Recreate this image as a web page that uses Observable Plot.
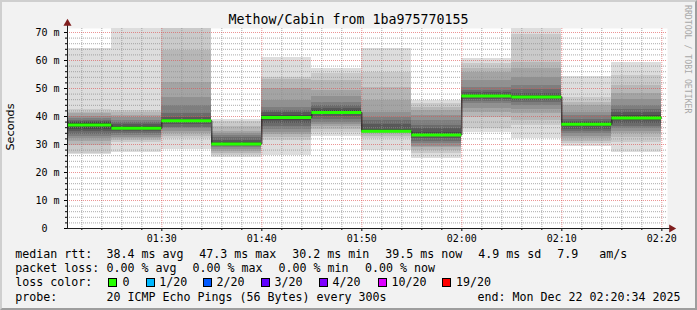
<!DOCTYPE html>
<html><head><meta charset="utf-8">
<script src="https://cdn.jsdelivr.net/npm/d3@7"></script>
<script src="https://cdn.jsdelivr.net/npm/@observablehq/plot@0.6"></script>
<style>
html,body{margin:0;padding:0;background:#f2f2f2;}
#wrap{position:relative;width:697px;height:310px;background:#f2f2f2;overflow:hidden;}
#wrap svg{position:absolute;left:0;top:0;}
.t{position:absolute;font-family:"DejaVu Sans Mono",monospace;white-space:pre;color:#000;}
.lg{font-size:11.63px;line-height:14px;height:14px;}
.box{position:absolute;width:7px;height:7px;border:1px solid #000;box-sizing:content-box;}
#frame{position:absolute;left:0;top:0;width:697px;height:310px;box-sizing:border-box;border:2px solid;border-color:#cfcfcf #9e9e9e #9e9e9e #cfcfcf;pointer-events:none;}
</style></head>
<body><div id="wrap"></div>
<script>
// ---------- data ----------
const chartTitle = "Methow/Cabin from 1ba975770155";
const yAxisTitle = "Seconds";
const watermark = "RRDTOOL / TOBI OETIKER";
const intervalStarts = ["01:20","01:25","01:30","01:35","01:40","01:45","01:50","01:55","02:00","02:05","02:10","02:15"];
const medianRtt = [37.0, 35.8, 38.5, 30.2, 39.6, 41.4, 34.7, 33.4, 47.3, 47.0, 37.2, 39.5];
// 20 sorted ping RTTs (ms) per 5-minute interval
const pings0  = [26.3,26.8,29.5,31.0,32.0,32.8,33.5,34.5,35.5,36.6,37.4,37.8,38.2,38.6,39.2,40.0,41.0,41.6,42.5,64.2];
const pings1  = [27.3,30.8,31.4,32.0,32.6,33.2,33.8,34.5,35.0,35.6,36.0,36.6,37.2,37.8,38.6,39.5,40.4,41.3,42.1,75.0];
const pings2  = [28.2,32.0,32.8,33.8,34.8,35.6,36.2,37.0,37.8,38.4,38.6,38.9,39.5,41.0,43.9,46.9,52.3,63.6,73.0,75.0];
const pings3  = [25.4,26.0,26.8,27.6,28.2,28.8,29.2,29.6,29.9,30.1,30.3,30.7,31.5,32.5,33.3,33.8,34.5,36.5,38.2,38.8];
const pings4  = [26.1,31.4,32.5,33.5,34.4,35.5,36.5,37.5,38.5,39.4,39.8,40.5,41.3,42.2,43.3,45.7,50.0,53.3,54.0,61.0];
const pings5  = [33.0,34.4,35.5,36.5,37.3,38.0,39.0,40.0,40.8,41.2,41.6,42.0,42.7,43.9,45.1,47.2,49.3,52.9,55.2,57.3];
const pings6  = [27.9,32.0,32.9,33.8,34.2,34.5,34.6,34.65,34.7,34.7,34.8,35.5,37.0,38.5,39.8,41.3,45.7,50.5,55.8,64.4];
const pings7  = [25.1,26.7,27.8,28.8,29.4,30.3,31.2,32.0,32.7,33.2,33.6,34.4,35.6,36.8,38.5,40.3,42.1,43.3,44.5,45.7];
const pings8  = [34.4,35.6,39.8,41.5,43.0,44.5,45.3,46.0,46.7,47.2,47.4,47.7,48.5,49.3,50.5,53.0,55.8,57.3,58.8,60.6];
const pings9  = [32.0,36.8,38.5,41.0,42.5,43.8,45.0,45.8,46.5,46.9,47.2,47.6,48.1,49.5,51.0,54.0,57.0,59.4,69.2,75.0];
const pings10 = [29.3,30.2,31.0,32.0,32.8,33.8,34.6,35.5,36.3,37.0,37.4,37.8,38.3,39.0,40.4,41.5,43.9,45.0,46.9,54.4];
const pings11 = [27.3,30.8,32.6,33.8,34.8,35.6,36.6,37.6,38.6,39.3,39.7,40.3,41.3,42.5,43.9,46.0,48.1,51.0,54.6,59.2];
const pingsByInterval = [pings0,pings1,pings2,pings3,pings4,pings5,pings6,pings7,pings8,pings9,pings10,pings11];
const smokeGrays = ["#dddddd","#cacaca","#b7b7b7","#a4a4a4","#919191","#7e7e7e","#6b6b6b","#585858","#454545","#323232"];
const yTickValues = [0,10,20,30,40,50,60,70];
const xTickLabels = ["01:30","01:40","01:50","02:00","02:10","02:20"];
const viewStart = "01:20:34", viewEnd = "02:20:34";
const yMax = 71.43;
const medianStats = ["median rtt:","38.4 ms avg","47.3 ms max","30.2 ms min","39.5 ms now","4.9 ms sd","7.9","am/s"];
const lossStats = ["packet loss:","0.00 % avg","0.00 % max","0.00 % min","0.00 % now"];
const lossHeader = "loss color:";
const lossLevels = ["0","1/20","2/20","3/20","4/20","10/20","19/20"];
const lossColors = ["#26ff00","#00b8ff","#0059ff","#5e00ff","#7e00ff","#dd00ff","#ff0000"];
const probeTexts = ["probe:","20 ICMP Echo Pings (56 Bytes) every 300s","end: Mon Dec 22 02:20:34 2025"];

// ---------- layout ----------
const medianX = [16,107.3,200,293,386,479,558,600];
const lossX = [16,107.3,193.3,279.3,365.7];
const boxX = [108.3,145.7,203.3,261,319,377.7,441.7];
const levelX = [123.3,160,217.3,275.3,333.3,392.3,456.7];
const probeX = [16,107.3,478.3];
const lineY = [254,268,282.3,296.7];

const dayBase = Date.UTC(2025, 11, 22);
const t = s => { const [h,m,sec=0] = s.split(":").map(Number); return new Date(dayBase + ((h*60+m)*60+sec)*1000); };
const xStart = t(viewStart), xEnd = t(viewEnd);
const intervals = intervalStarts.map((s,i) => ({start: t(s), end: new Date(+t(s) + 300000), median: medianRtt[i], pings: pingsByInterval[i]}));
const last = intervals[intervals.length-1];
const medianPath = [...intervals.map(d => ({x: d.start, y: d.median})), {x: last.end, y: last.median}];

const majorX = xTickLabels.map(s => t(s));
const minorX = d3.utcMinute.every(2).range(xStart, new Date(+xEnd+1)).filter(d => d.getUTCMinutes() % 10 !== 0);
const minorY = d3.range(2, yMax, 2).filter(v => v % 10 !== 0);
const majorY = yTickValues.filter(v => v > 0);
const gridMinor = "rgba(143,143,143,0.75)", gridMajor = "rgba(222,79,79,0.6)";

const plot = Plot.plot({
  width: 697, height: 310,
  marginLeft: 67, marginRight: 30, marginTop: 28, marginBottom: 82,
  style: {background: "transparent", fontFamily: "DejaVu Sans Mono", fontSize: "10px", color: "#000", overflow: "visible"},
  x: {type: "utc", domain: [xStart, xEnd]},
  y: {domain: [0, yMax]},
  marks: [
    Plot.frame({fill: "#ffffff", stroke: "none"}),
    ...smokeGrays.map((g, k) => Plot.rect(intervals, {x1: "start", x2: "end", y1: d => d.pings[k], y2: d => d.pings[19-k], fill: g, clip: true, shapeRendering: "crispEdges"})),
    Plot.ruleY(minorY, {stroke: gridMinor, strokeDasharray: "1,1"}),
    Plot.ruleX(minorX, {stroke: gridMinor, strokeDasharray: "1,1"}),
    Plot.ruleY(majorY, {stroke: gridMajor, strokeDasharray: "1,1"}),
    Plot.ruleX(majorX, {stroke: gridMajor, strokeDasharray: "1,1"}),
    Plot.line(medianPath, {x: "x", y: "y", curve: "step-after", stroke: "#202020", strokeWidth: 1, clip: true}),
    Plot.ruleY(intervals, {y: "median", x1: "start", x2: "end", stroke: "#26ff00", strokeWidth: 3, clip: true}),
    Plot.axisY(yTickValues, {tickSize: 3, tickPadding: 5, label: null, tickFormat: v => v === 0 ? "0\u00a0\u00a0" : v + " m", fontSize: 10}),
    Plot.axisY(minorY, {tickSize: 2, label: null, tickFormat: () => ""}),
    Plot.axisX(majorX, {tickSize: 3, tickPadding: 3, label: null, tickFormat: d3.utcFormat("%H:%M"), fontSize: 10}),
    Plot.axisX(minorX, {tickSize: 2, label: null, tickFormat: () => ""}),
    Plot.ruleY([0], {stroke: "#1f1f1f", insetRight: -3}),
    Plot.ruleX([xStart], {stroke: "#1f1f1f", insetTop: -4}),
    Plot.dot([{x: xEnd, y: 0}], {x: "x", y: "y", symbol: "triangle", r: 3, fill: "#801f1f", stroke: "none", rotate: 90, dx: 4}),
    Plot.dot([{x: xStart, y: yMax}], {x: "x", y: "y", symbol: "triangle", r: 3, fill: "#801f1f", stroke: "none", dy: -5})
  ]
});
const wrap = document.getElementById("wrap");
wrap.appendChild(plot);

function addText(txt, x, cy, cls, size, lh, extra) {
  const el = document.createElement("div");
  el.className = "t " + (cls || "");
  el.textContent = txt;
  el.style.left = x + "px";
  el.style.top = (cy - lh/2) + "px";
  if (size) { el.style.fontSize = size + "px"; el.style.lineHeight = lh + "px"; }
  if (extra) Object.assign(el.style, extra);
  wrap.appendChild(el);
  return el;
}
// title
addText(chartTitle, 0, 19.5, "", 13.3, 16, {width: "697px", textAlign: "center"});
// y axis title
addText(yAxisTitle, 11, 127, "", 11.2, 14, {fontFamily: "'DejaVu Sans', sans-serif", transform: "translate(-50%,0) rotate(-90deg)", transformOrigin: "50% 50%"});
// watermark
addText(watermark, 683, 5 + 7, "", 8.2, 10, {writingMode: "vertical-rl", color: "#a8a8a8", top: "5px", lineHeight: "10px"});
// legend
medianStats.forEach((s, i) => addText(s, medianX[i] - 0.7, lineY[0], "lg", null, 14));
lossStats.forEach((s, i) => addText(s, lossX[i] - 0.7, lineY[1], "lg", null, 14));
addText(lossHeader, 16 - 0.7, lineY[2], "lg", null, 14);
lossLevels.forEach((s, i) => {
  const b = document.createElement("div");
  b.className = "box";
  b.style.left = boxX[i] + "px";
  b.style.top = (lineY[2] - 4) + "px";
  b.style.background = lossColors[i];
  wrap.appendChild(b);
  addText(s, levelX[i] - 0.7, lineY[2], "lg", null, 14);
});
probeTexts.forEach((s, i) => addText(s, probeX[i] - 0.7, lineY[3], "lg", null, 14));
const fr = document.createElement("div"); fr.id = "frame"; wrap.appendChild(fr);
</script></body></html>
